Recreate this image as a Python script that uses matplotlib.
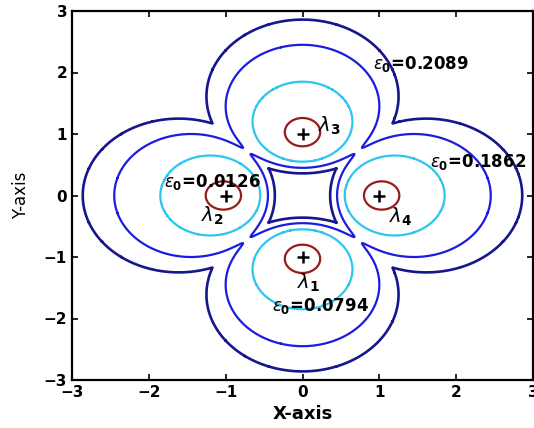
import numpy as np
import matplotlib.pyplot as plt

# eigenvalues lambda_1..lambda_4
eig_re = [0.0, -1.0, 0.0, 1.0]
eig_im = [-1.0, 0.0, 1.0, 0.0]
eig_names = [r'$\lambda_{\mathbf{1}}$', r'$\lambda_{\mathbf{2}}$',
             r'$\lambda_{\mathbf{3}}$', r'$\lambda_{\mathbf{4}}$']

# pseudospectral levels: every level is (close to) a union of
# four disks, centred on the ray through each eigenvalue
eps_levels = [0.0126, 0.0794, 0.1862, 0.2089]
lobe_offset = [1.03, 1.20, 1.45, 1.61]   # distance of disk centre from origin
lobe_radius = [0.23, 0.65, 1.00, 1.25]
neck_width = [0.0, 0.0, 0.04, 0.0]       # soft union for the near-touching level

level_colors = ['#961c1c', '#2cc6ee', '#1c1ce0', '#16168e']
level_widths = [1.6, 1.6, 1.6, 1.9]

# where each label was put on the figure
eig_label_xy = [(-0.07, -1.42), (-1.32, -0.33), (0.2, 1.14), (1.12, -0.35)]
eps_label_xy = [(-1.80, 0.22), (-0.40, -1.79), (1.66, 0.55), (0.92, 2.14)]

plt.rcParams['font.family'] = ['DejaVu Sans']
plt.rcParams['mathtext.fontset'] = 'dejavusans'

fig = plt.figure(figsize=(5.34, 4.28), dpi=100)
ax = fig.add_axes([72 / 534, 48 / 428, 461 / 534, 369 / 428])

xs = np.linspace(-3, 3, 1201)
X, Y = np.meshgrid(xs, xs)

for k in range(len(eps_levels)):
    dists = []
    for re, im in zip(eig_re, eig_im):
        cx, cy = lobe_offset[k] * re, lobe_offset[k] * im
        dists.append(np.hypot(X - cx, Y - cy) - lobe_radius[k])
    dists = np.array(dists)
    T = neck_width[k]
    if T > 0:
        field = -T * np.log(np.exp(-dists / T).sum(axis=0))
    else:
        field = dists.min(axis=0)
    ax.contour(X, Y, field, levels=[0.0], colors=[level_colors[k]],
               linewidths=level_widths[k])

ax.plot(eig_re, eig_im, '+', color='k', markersize=9, mew=1.8, zorder=5)

for name, (tx, ty) in zip(eig_names, eig_label_xy):
    ax.text(tx, ty, name, fontsize=14, ha='left', va='center')

for lev, (tx, ty) in zip(eps_levels, eps_label_xy):
    ax.text(tx, ty, r'$\varepsilon_{\mathbf{0}}$=%.4f' % lev, fontsize=12,
            fontweight='bold', ha='left', va='center')

ax.set_xlim(-3, 3)
ax.set_ylim(-3, 3)
ticks = [-3, -2, -1, 0, 1, 2, 3]
ax.set_xticks(ticks)
ax.set_yticks(ticks)
ax.tick_params(direction='in', length=4, width=1.2, top=True, right=True,
               labelsize=11)
for lab in ax.get_xticklabels() + ax.get_yticklabels():
    lab.set_fontweight('bold')
for sp in ax.spines.values():
    sp.set_linewidth(1.6)

ax.set_xlabel('X-axis', fontsize=13, fontweight='bold', labelpad=4)
ax.set_ylabel('Y-axis', fontsize=12, labelpad=10)

fig.savefig('out.png', dpi=100)
